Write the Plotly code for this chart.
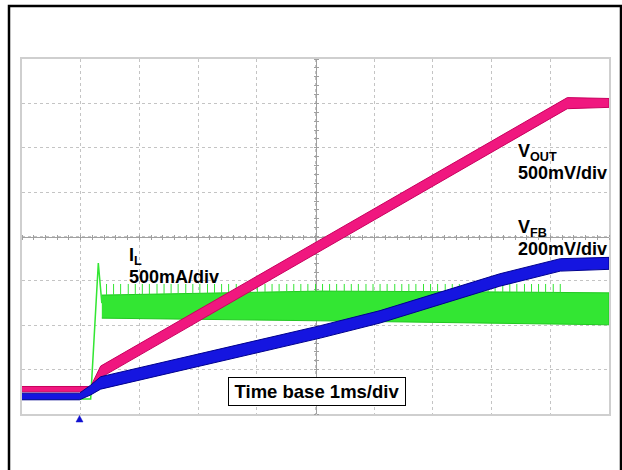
import numpy as np
import plotly.graph_objects as go

# ---- data (time in ms, 1 ms/div; amplitudes in screen divisions) ----
VOUT_T  = [0.00, 1.17, 1.34, 9.29, 10.00]
VOUT_HI = [0.62, 0.62, 1.08, 7.13, 7.11]
VOUT_LO = [0.50, 0.50, 0.82, 6.88, 6.91]

VFB_T  = [0.00, 0.98, 1.17, 1.34, 5.08, 6.10, 8.14, 9.17, 10.00]
VFB_HI = [0.47, 0.47, 0.65, 0.84, 1.99, 2.33, 3.16, 3.50, 3.53]
VFB_LO = [0.32, 0.32, 0.43, 0.56, 1.71, 2.05, 2.88, 3.22, 3.26]

IL_START_T = [0.00, 1.17, 1.30, 1.36]
IL_START_Y = [0.34, 0.34, 3.40, 2.50]
IL_T  = [1.36, 5.08, 8.14, 10.00]
IL_HI = [2.68, 2.77, 2.75, 2.73]
IL_LO = [2.16, 2.10, 2.05, 2.01]
IL_SPIKE_T = [1.44, 1.56, 1.68, 1.81, 1.93, 2.05, 2.17, 2.30, 2.42, 2.54, 2.66,
              2.79, 2.91, 3.03, 3.16, 3.28, 3.40, 3.52, 3.65, 3.77, 3.89, 4.01,
              4.14, 4.26, 4.38, 4.51, 4.63, 4.75, 4.87, 5.00, 5.12, 5.24, 5.36,
              5.49, 5.61, 5.73, 5.86, 5.98, 6.10, 6.22, 6.35, 6.47, 6.59, 6.71,
              6.84, 6.96, 7.08, 7.21, 7.33, 7.45, 7.57, 7.70, 7.82, 7.94, 8.06,
              8.19, 8.31, 8.43, 8.56, 8.68, 8.80, 8.92, 9.05, 9.17]
IL_SPIKE_PEAK = 2.93

TRIGGER_T = 0.98

LABEL_IL = ("I", "L", "500mA/div")
LABEL_VOUT = ("V", "OUT", "500mV/div")
LABEL_VFB = ("V", "FB", "200mV/div")
TIMEBASE = "Time base 1ms/div"

# ---- styling ----
PINK, PINK_EDGE = "#F0177F", "#C8005E"
BLUE, BLUE_EDGE = "#1515E0", "#00008E"
GREEN, GREEN_EDGE = "#33E633", "#22C822"
FONT = "Arial, 'Liberation Sans', sans-serif"

W, H = 622, 470
ML, MR, MT, MB = 22, 13, 59, 56
PW, PH = W - ML - MR, H - MT - MB


def band(t, hi, lo, fill, edge, name):
    xs = list(t) + list(t)[::-1]
    ys = list(hi) + list(lo)[::-1]
    return go.Scatter(x=xs, y=ys, mode="lines", fill="toself", fillcolor=fill,
                      line=dict(color=edge, width=1), name=name,
                      showlegend=False, hoverinfo="skip")


fig = go.Figure()

# inductor current
fig.add_trace(go.Scatter(x=IL_START_T, y=IL_START_Y, mode="lines",
                         line=dict(color=GREEN, width=1.5), showlegend=False,
                         hoverinfo="skip"))
fig.add_trace(band(IL_T, IL_HI, IL_LO, GREEN, GREEN_EDGE, "IL"))
base = np.interp(IL_SPIKE_T, IL_T, IL_HI)
sx, sy = [], []
for t, b in zip(IL_SPIKE_T, base):
    sx += [t, t, None]
    sy += [b, IL_SPIKE_PEAK, None]
fig.add_trace(go.Scatter(x=sx, y=sy, mode="lines", line=dict(color=GREEN, width=1),
                         showlegend=False, hoverinfo="skip"))

# output voltage and feedback voltage
fig.add_trace(band(VOUT_T, VOUT_HI, VOUT_LO, PINK, PINK_EDGE, "VOUT"))
fig.add_trace(band(VFB_T, VFB_HI, VFB_LO, BLUE, BLUE_EDGE, "VFB"))

# dummy traces to show the centre graticule axes
for ax in ("2", "3"):
    fig.add_trace(go.Scatter(x=[None], y=[None], xaxis="x" + ax, yaxis="y" + ax,
                             showlegend=False, hoverinfo="skip"))

grid = dict(showgrid=True, gridcolor="#C4C4C4", griddash="dot", gridwidth=1,
            showticklabels=False, ticks="", zeroline=False, showline=True,
            linecolor="#CFCFCF", linewidth=2, mirror=True, fixedrange=True)
centre = dict(showgrid=False, showticklabels=False, zeroline=False, showline=True,
              linecolor="#A0A0A0", linewidth=1, ticks="outside", ticklen=2,
              tickcolor="#A0A0A0", tickwidth=1, anchor="free", position=0.5,
              layer="below traces")

fig.update_layout(
    width=W, height=H, autosize=False,
    margin=dict(l=ML, r=MR, t=MT, b=MB, pad=0),
    paper_bgcolor="white", plot_bgcolor="white",
    font=dict(family=FONT, color="black", size=12),
    xaxis=dict(range=[0, 10], dtick=1, tick0=0, layer="below traces", **grid),
    yaxis=dict(range=[0, 8], dtick=1, tick0=0, layer="below traces", **grid),
    xaxis2=dict(range=[0, 10], dtick=0.2, tick0=0, overlaying="x", side="bottom", **centre),
    xaxis3=dict(range=[0, 10], dtick=0.2, tick0=0, overlaying="x", side="top", **centre),
    yaxis2=dict(range=[0, 8], dtick=0.2, tick0=0, overlaying="y", side="left", **centre),
    yaxis3=dict(range=[0, 8], dtick=0.2, tick0=0, overlaying="y", side="right", **centre),
)


def px_x(p):
    return (p - ML) / PW


def px_y(p):
    return (H - MB - p) / PH


# trigger-position marker: small triangle just under the graticule at TRIGGER_T
fig.add_shape(type="path", xref="x", yref="paper",
              xsizemode="pixel", xanchor=TRIGGER_T,
              ysizemode="pixel", yanchor=0,
              path="M -3.5 -8 L 3.5 -8 L 0 -1.5 Z",
              fillcolor="#1010D0", line=dict(color="#1010D0", width=0.5))

# outer black frame
fig.add_shape(type="rect", xref="paper", yref="paper",
              x0=px_x(9), x1=px_x(621), y0=px_y(490), y1=px_y(6),
              line=dict(color="black", width=2.5), fillcolor="rgba(0,0,0,0)")

FS = 18


def label(x, y, main, sub, per):
    fig.add_annotation(x=x, y=y, xref="x", yref="y", xanchor="left", yanchor="middle",
                       text=f"<b>{main}<sub>{sub}</sub></b>",
                       showarrow=False, font=dict(size=FS, family=FONT, color="black"))
    fig.add_annotation(x=x, y=y - 0.47, xref="x", yref="y", xanchor="left", yanchor="middle",
                       text=f"<b>{per}</b>", showarrow=False,
                       font=dict(size=FS, family=FONT, color="black"))


label(1.79, 3.55, *LABEL_IL)
label(8.41, 5.90, *LABEL_VOUT)
label(8.41, 4.19, *LABEL_VFB)

fig.add_annotation(x=5.03, y=0.507, xref="x", yref="y", xanchor="center", yanchor="middle",
                   text=f"<b>{TIMEBASE}</b>", showarrow=False, width=176, height=27,
                   bgcolor="white", bordercolor="black", borderwidth=1, borderpad=0,
                   font=dict(size=18.5, family=FONT, color="black"))

fig.write_html("out.html",
               config={"displayModeBar": False, "staticPlot": True},
               post_script="document.body.style.margin='0';document.body.style.overflow='hidden';")
